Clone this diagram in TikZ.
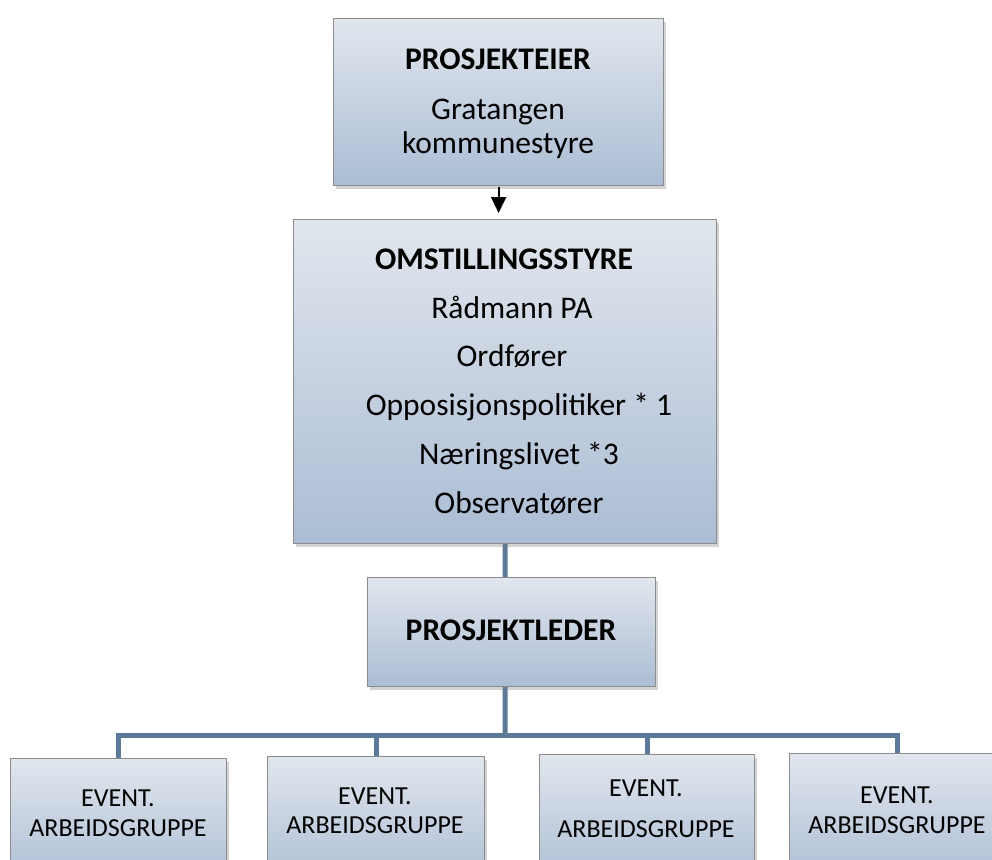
\documentclass[tikz,border=0pt]{standalone}
\usepackage{fontspec}
\setmainfont{Carlito}
\usepackage{tikz}
\usetikzlibrary{shadows,arrows.meta,backgrounds}
\definecolor{boxtop}{HTML}{E1E6ED}
\definecolor{boxbot}{HTML}{ABBDD4}
\definecolor{boxline}{HTML}{8C8C8C}
\definecolor{linkblue}{HTML}{5B7A9A}

\begin{document}
\begin{tikzpicture}[x=1pt,y=-1pt,
  orgbox/.style={draw=boxline,line width=1.2pt,top color=boxtop,bottom color=boxbot,
    drop shadow={shadow xshift=2pt,shadow yshift=-3pt,opacity=.35},
    anchor=north west,inner sep=0pt},
  big/.style={anchor=base,inner sep=0pt,font=\fontsize{31.5}{36}\selectfont},
  hdr/.style={anchor=base,inner sep=0pt,font=\fontsize{31.5}{36}\selectfont\bfseries},
  small/.style={anchor=base,inner sep=0pt,font=\fontsize{26}{30}\selectfont},
  link/.style={draw=linkblue,line width=5pt}]
\useasboundingbox (0,0) rectangle (992,859);
\clip (0,0) rectangle (992,859);
\node[orgbox,minimum width=330pt,minimum height=167pt] (eier) at (333,18) {};
\node[hdr] (eierhdr) at (498,69) {PROSJEKTEIER};
\node[big] (eier1) at (498,119) {Gratangen};
\node[big] (eier2) at (498,153) {kommunestyre};
\node[orgbox,minimum width=423pt,minimum height=324pt] (styre) at (293,219) {};
\node[hdr] (styrehdr) at (504,269) {OMSTILLINGSSTYRE};
\node[big] (styre1) at (512,318) {Rådmann PA};
\node[big] (styre2) at (512,366) {Ordfører};
\node[big] (styre3) at (519,415) {Opposisjonspolitiker * 1};
\node[big] (styre4) at (519,464) {Næringslivet *3};
\node[big] (styre5) at (519,513) {Observatører};
\node[orgbox,minimum width=288pt,minimum height=109pt] (leder) at (367,577) {};
\node[hdr] (lederhdr) at (511,640) {PROSJEKTLEDER};
\node[orgbox,minimum width=216pt,minimum height=130pt] (grp1) at (10,758) {};
\node[small] (grp1a) at (118,806) {EVENT.};
\node[small] (grp1b) at (118,836) {ARBEIDSGRUPPE};
\node[orgbox,minimum width=217pt,minimum height=130pt] (grp2) at (267,756) {};
\node[small] (grp2a) at (375,804) {EVENT.};
\node[small] (grp2b) at (375,833) {ARBEIDSGRUPPE};
\node[orgbox,minimum width=215pt,minimum height=130pt] (grp3) at (539,754) {};
\node[small] (grp3a) at (646,796) {EVENT.};
\node[small] (grp3b) at (646,837) {ARBEIDSGRUPPE};
\node[orgbox,minimum width=216pt,minimum height=130pt] (grp4) at (789,753) {};
\node[small] (grp4a) at (897,803) {EVENT.};
\node[small] (grp4b) at (897,833) {ARBEIDSGRUPPE};
\draw[-{Triangle[length=16pt,width=15pt]},line width=2pt,shorten <=1pt,shorten >=6pt] (eier.south) -- (eier.south |- styre.north);
\coordinate (bus) at (505,735);
\begin{scope}[on background layer]
\draw[link] (styre.south) -- (bus);
\draw[link] (grp1.north) |- (bus) -| (grp4.north);
\draw[link] (grp2.north) -- (grp2.north |- bus);
\draw[link] (grp3.north) -- (grp3.north |- bus);
\end{scope}
\end{tikzpicture}
\end{document}
